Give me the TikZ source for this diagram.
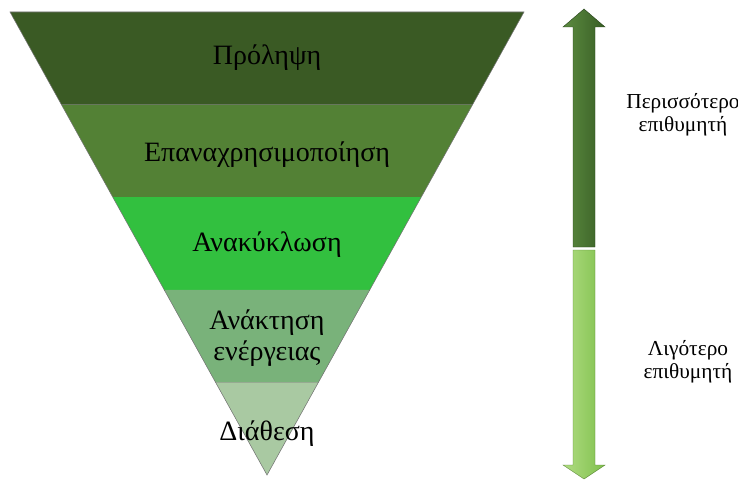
\documentclass[tikz,border=0pt]{standalone}
\usepackage{fontspec}
\setmainfont{Liberation Serif}
\usetikzlibrary{calc}
\definecolor{bandA}{HTML}{3A5A24}
\definecolor{bandB}{HTML}{538135}
\definecolor{bandC}{HTML}{32C03F}
\definecolor{bandD}{HTML}{79B27A}
\definecolor{bandE}{HTML}{A9C9A2}
\definecolor{arrDark}{HTML}{385F25}
\definecolor{arrDarkHi}{HTML}{5C8A40}
\definecolor{arrLight}{HTML}{7FC04C}
\definecolor{arrLightHi}{HTML}{B0DC82}
\begin{document}
\begin{tikzpicture}[x=0.75pt,y=-0.75pt,
    band/.style={draw=black!55,line width=0.4pt},
    bandtext/.style={font=\fontsize{21}{23}\selectfont,align=center,text=black},
    sidetext/.style={font=\fontsize{16}{17}\selectfont,align=center,text=black}]
    \useasboundingbox (0,0) rectangle (738,481);
    \coordinate (tl) at (10,12);
    \coordinate (tr) at (524,12);
    \coordinate (ap) at (267,475);
    \foreach \i/\col in {0/bandA,1/bandB,2/bandC,3/bandD,4/bandE}{
        \pgfmathsetmacro{\a}{\i/5}
        \pgfmathsetmacro{\b}{(\i+1)/5}
        \fill[\col] ($(tl)!\a!(ap)$) -- ($(tr)!\a!(ap)$) -- ($(tr)!\b!(ap)$) -- ($(tl)!\b!(ap)$) -- cycle;
        \draw[band] ($(tl)!\b!(ap)$) -- ($(tr)!\b!(ap)$);
    }
    \draw[band] (tl) -- (tr) -- (ap) -- cycle;

    \node[bandtext] (prol) at (267,58) {Πρόληψη};
    \node[bandtext] (epan) at (267,155) {Επαναχρησιμοποίηση};
    \node[bandtext] (anak) at (267,245) {Ανακύκλωση};
    \node[bandtext] (ener) at (267,338) {Ανάκτηση\\ενέργειας};
    \node[bandtext] (diat) at (267,434) {Διάθεση};

    \shade[left color=arrDarkHi,right color=arrDark,draw=arrDark!70!black,line width=0.3pt]
        (573,247) -- (573,27) -- (563,27) -- (584,9) -- (605,27) -- (595,27) -- (595,247) -- cycle;
    \shade[left color=arrLightHi,right color=arrLight,draw=arrLight!70!black,line width=0.3pt]
        (573,250) -- (573,465) -- (563,465) -- (584,479) -- (605,465) -- (595,465) -- (595,250) -- cycle;

    \node[sidetext] (more) at (683,115) {Περισσότερο\\επιθυμητή};
    \node[sidetext] (less) at (688,362) {Λιγότερο\\επιθυμητή};
\end{tikzpicture}
\end{document}
